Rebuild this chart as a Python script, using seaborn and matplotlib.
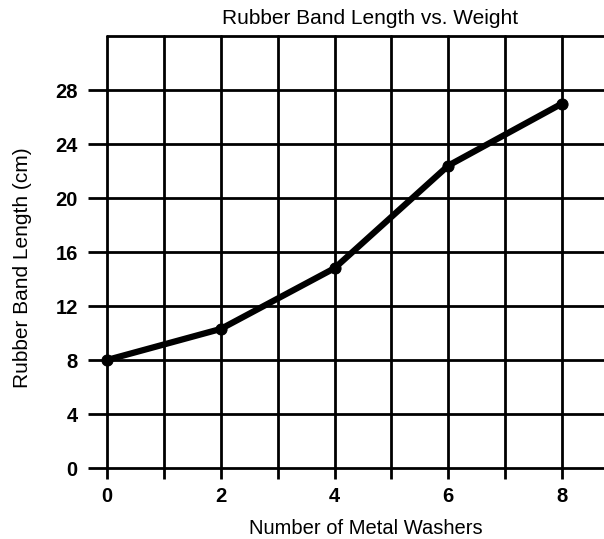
import matplotlib
matplotlib.use("Agg")
import matplotlib.pyplot as plt
import seaborn as sns
import pandas as pd

# values
washers = [0, 2, 4, 6, 8]
length_cm = [8.0, 10.3, 14.8, 22.4, 27.0]
x_ticks = [0, 2, 4, 6, 8]
y_ticks = [0, 4, 8, 12, 16, 20, 24, 28]

df = pd.DataFrame({"washers": washers, "length": length_cm})

sns.set_theme(style="white")
plt.rcParams['font.family'] = ['Liberation Sans', 'DejaVu Sans']
plt.rcParams['text.color'] = 'black'
plt.rcParams['xtick.color'] = 'black'
plt.rcParams['ytick.color'] = 'black'

fig = plt.figure(figsize=(6.04, 5.39), dpi=100)
ax = fig.add_axes([107 / 604, 1 - 468 / 539, 1 - 107 / 604, (468 - 36) / 539])

# grid lines: every washer vertically, every 4 cm horizontally
for xv in range(0, 9):
    ax.axvline(xv, color='black', lw=2.0, zorder=1, clip_on=False)
for yv in range(0, 33, 4):
    ax.axhline(yv, color='black', lw=2.0, zorder=1, clip_on=False)

sns.lineplot(data=df, x="washers", y="length", ax=ax, color='black', lw=4.5,
             marker='o', markersize=8, markeredgecolor='black', zorder=3,
             clip_on=False)

ax.set_xlim(0, 8 + 42 / 57)
ax.set_ylim(0, 32)
for s in ax.spines.values():
    s.set_visible(False)

ax.set_xticks(x_ticks)
ax.set_xticks([1, 3, 5, 7], minor=True)
ax.set_yticks(y_ticks)
ax.tick_params(axis='x', which='both', direction='out', length=8, width=2,
               color='black', labelcolor='black', bottom=True, pad=6, labelsize=14.5)
ax.tick_params(axis='y', which='major', direction='out', length=14, width=2,
               color='black', labelcolor='black', left=True, pad=7, labelsize=14.5)
for lab in ax.get_xticklabels() + ax.get_yticklabels():
    lab.set_fontweight('bold')

ax.set_xlabel("")
ax.set_ylabel("")
fig.text(370 / 604, 1 - 19 / 539, "Rubber Band Length vs. Weight",
         ha='center', va='center', fontsize=15, color='black')
fig.text(366 / 604, 1 - 529 / 539, "Number of Metal Washers",
         ha='center', va='center', fontsize=14.5, color='black')
fig.text(23 / 604, 1 - 268 / 539, "Rubber Band Length (cm)",
         ha='center', va='center', rotation=90, fontsize=15, color='black')

fig.savefig("out.png", dpi=100)
